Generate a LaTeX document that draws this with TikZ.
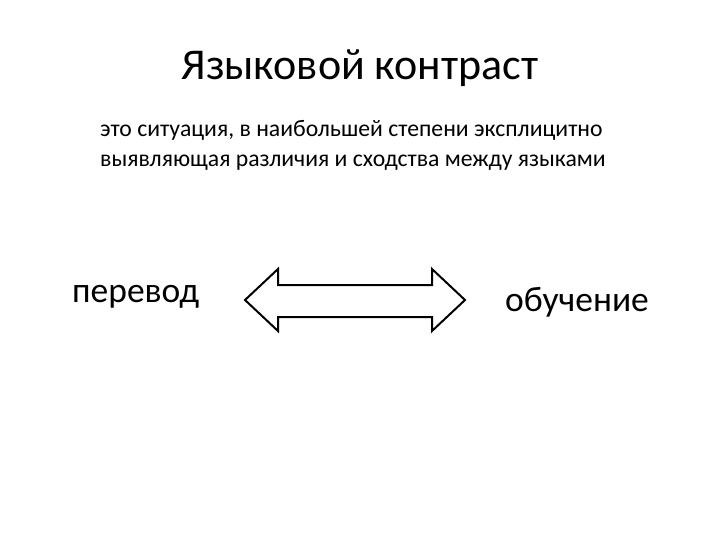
\documentclass[tikz,border=0pt]{standalone}
\usepackage{fontspec}
\setmainfont{Carlito}
\begin{document}
\begin{tikzpicture}[x=1pt,y=-1pt,txt/.style={inner sep=0pt,anchor=west}]
\useasboundingbox (0,0) rectangle (720,540);
\node[inner sep=0pt,font=\fontsize{44}{50}\selectfont] (title) at (360,68) {Языковой контраст};
\node[txt,align=left,font=\fontsize{23.7}{30}\selectfont] (def) at (100,145) {это ситуация, в наибольшей степени эксплицитно\\выявляющая различия и сходства между языками};
\node[txt,font=\fontsize{35.5}{40}\selectfont] (a) at (72,297) {перевод};
\node[txt,font=\fontsize{35.5}{40}\selectfont] (b) at (505,302) {обучение};
\draw[line width=2pt,line join=miter] (245,300) -- (278,269) -- (278,285) -- (432,285) -- (432,269) -- (465,300) -- (432,331) -- (432,317) -- (278,317) -- (278,331) -- cycle;
\end{tikzpicture}
\end{document}
